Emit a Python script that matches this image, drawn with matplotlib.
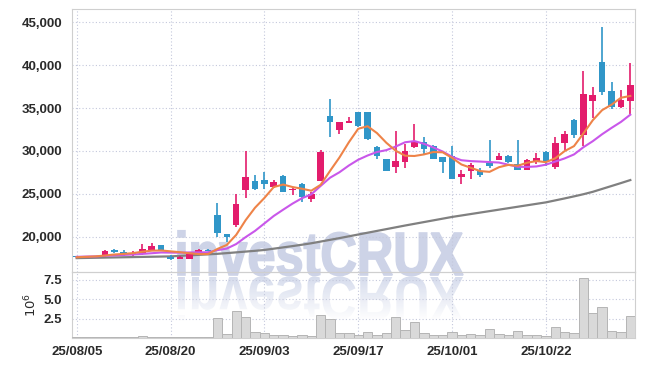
import numpy as np
import pandas as pd
import matplotlib
matplotlib.use("Agg")
import matplotlib.pyplot as plt
from matplotlib.textpath import TextPath
from matplotlib.patches import PathPatch
from matplotlib.font_manager import FontProperties
from matplotlib.transforms import Affine2D
from matplotlib.colors import LinearSegmentedColormap
from matplotlib.ticker import FuncFormatter

# KRX trading days (Aug 15 and Chuseok week closed)
holidays = ["2025-08-15", "2025-10-03", "2025-10-06", "2025-10-07", "2025-10-08", "2025-10-09"]
dates = pd.bdate_range("2025-08-05", "2025-11-04", freq="C", holidays=holidays)

opens = [17700, 17550, 17650, 17750, 18450, 18250, 17950, 17950, 18500, 19000,
         17650, 17450, 17400, 18200, 18450, 22550, 20300, 21400, 25450, 26500,
         26600, 25850, 27100, 25400, 26150, 24400, 26550, 34100, 32400, 33300,
         34500, 34500, 30400, 29050, 28100, 28650, 30450, 31000, 30600, 29250,
         29450, 27000, 27700, 27600, 28550, 28950, 29450, 28450, 27800, 28850,
         29900, 28100, 30950, 33650, 31800, 35800, 40400, 36950, 35150, 35800]
highs = [17750, 17800, 17750, 18500, 18550, 18450, 18350, 19150, 19250, 19050,
         17850, 17700, 18050, 18550, 18600, 23900, 20350, 24950, 29950, 27200,
         27500, 26600, 27150, 25650, 26300, 25200, 30050, 36100, 33400, 34000,
         34500, 34500, 30600, 29100, 32300, 30750, 33100, 31650, 30700, 29300,
         30600, 27800, 28600, 28000, 31250, 29700, 29500, 31250, 29050, 29750,
         29950, 31650, 32300, 33700, 39300, 37450, 44400, 38050, 37100, 40200]
lows = [17550, 17500, 17600, 17650, 18150, 17800, 17800, 17900, 18400, 18300,
        17250, 17400, 17350, 18150, 18300, 20000, 19400, 21100, 24500, 25450,
        25550, 25700, 25200, 24900, 24100, 24000, 26450, 31650, 32000, 33300,
        32800, 31300, 29100, 27600, 27400, 28000, 30350, 29550, 29000, 27400,
        26700, 26150, 26700, 27000, 28000, 28900, 28550, 27750, 27750, 28450,
        28200, 27900, 30150, 31450, 30550, 33850, 36550, 34900, 35000, 34250]
closes = [17600, 17700, 17700, 18350, 18250, 17950, 18150, 18550, 18950, 18350,
          17450, 17650, 17950, 18450, 18350, 20450, 20000, 23800, 27000, 25600,
          26150, 26400, 25250, 25550, 24600, 25000, 29850, 33350, 33350, 33450,
          32900, 31350, 29350, 27700, 28800, 30000, 31200, 30250, 29100, 28650,
          26750, 27350, 28300, 27200, 28200, 29450, 28700, 27800, 28950, 29200,
          28800, 30950, 32000, 31850, 36600, 36500, 36850, 35150, 35900, 37650]
# volume in millions of shares
volumes = [0.12, 0.10, 0.08, 0.15, 0.10, 0.09, 0.10, 0.25, 0.15, 0.10,
           0.12, 0.08, 0.15, 0.12, 0.10, 2.60, 0.58, 3.44, 2.72, 0.83,
           0.66, 0.41, 0.33, 0.29, 0.41, 0.30, 3.00, 2.50, 0.70, 0.60,
           0.45, 0.80, 0.42, 0.70, 2.72, 1.07, 2.05, 0.66, 0.40, 0.40,
           0.80, 0.40, 0.54, 0.40, 1.18, 0.54, 0.40, 0.92, 0.40, 0.40,
           0.28, 1.43, 0.80, 0.66, 7.72, 3.23, 4.00, 0.92, 0.80, 2.88]

# moving average lines as drawn on the chart
ma5 = [17600, 17650, 17700, 17800, 17920, 17990, 18080, 18250, 18370, 18390,
       18290, 18190, 18070, 17970, 17970, 18570, 19040, 20210, 21920, 23370,
       24510, 25790, 26080, 25790, 25590, 25360, 26050, 27670, 29230, 31000,
       32580, 32880, 32080, 30950, 30020, 29440, 29410, 29590, 29870, 29840,
       29190, 28420, 28030, 27650, 27560, 28100, 28370, 28270, 28620, 28820,
       28690, 29140, 29980, 30560, 32040, 33580, 34760, 35390, 36200, 36410]
ma10 = [17650, 17680, 17700, 17760, 17820, 17870, 17920, 17990, 18070, 18155,
        18140, 18135, 18160, 18170, 18180, 18430, 18615, 19140, 19945, 20670,
        21540, 22415, 23145, 23855, 24480, 24935, 25920, 26875, 27510, 28295,
        28970, 29465, 29875, 30090, 30510, 31010, 31145, 30835, 30410, 29930,
        29315, 28915, 28810, 28760, 28700, 28645, 28395, 28150, 28135, 28190,
        28395, 28755, 29125, 29590, 30430, 31135, 31950, 32685, 33380, 34225]
ma60 = [17500, 17520, 17540, 17560, 17580, 17600, 17620, 17640, 17660, 17680,
        17700, 17760, 17820, 17880, 17940, 18000, 18080, 18170, 18260, 18350,
        18450, 18600, 18750, 18900, 19060, 19230, 19430, 19630, 19830, 20040,
        20250, 20460, 20670, 20880, 21090, 21300, 21500, 21700, 21900, 22100,
        22300, 22470, 22640, 22810, 22980, 23150, 23320, 23490, 23660, 23830,
        24000, 24230, 24460, 24700, 24950, 25230, 25570, 25910, 26250, 26600]

up_color = "#e31c6c"
down_color = "#3096c8"
grid_color = "#c4c8dc"
spine_color = "#cfcfcf"
label_font = dict(family="Liberation Sans", size=9.5, weight="bold", color="#2a2a2a")

fig = plt.figure(figsize=(6.45, 3.66), dpi=100)

# watermark layer in pixel coordinates, sits behind both panels
wm = fig.add_axes([0, 0, 1, 1], zorder=0)
fp = FontProperties(family="Liberation Sans", weight="bold")
tp = TextPath((0, 0), "investCRUX", size=1, prop=fp)
ext = tp.get_extents()
cap = TextPath((0, 0), "X", size=1, prop=fp).get_extents().height
sx = 285 / ext.width
sy = 42 / cap
x0, base = 178, 275
front = Affine2D().translate(-ext.x0, 0).scale(sx, -sy).translate(x0, base)
wm.add_patch(PathPatch(front.transform_path(tp), fc="#cdd3e7", ec="#cdd3e7", lw=1.2))
back = Affine2D().translate(-ext.x0, 0).scale(sx, sy).translate(x0, base + 2)
refl = PathPatch(back.transform_path(tp), fc="none", ec="none")
wm.add_patch(refl)
cmap = LinearSegmentedColormap.from_list("wm", ["#d5dbec", "#ffffff"])
grad = np.linspace(0, 1, 100).reshape(-1, 1)
im = wm.imshow(grad, cmap=cmap, extent=(x0 - 5, x0 + 295, base + 46, base),
               aspect="auto", origin="upper")
im.set_clip_path(refl)
wm.set_xlim(0, 645)
wm.set_ylim(366, 0)
wm.axis("off")

# price panel
ax = fig.add_axes([72 / 645, 1 - 272 / 366, 563 / 645, 263 / 366], zorder=1)
ax.set_facecolor("none")
x = np.arange(len(closes))
o = np.array(opens)
c = np.array(closes)
colors = [up_color if cc >= oo else down_color for oo, cc in zip(o, c)]
ax.vlines(x, lows, highs, colors=colors, linewidth=1.2, zorder=3)
body = np.maximum(np.abs(c - o), 60)
ax.bar(x, body, bottom=np.minimum(o, c), width=0.7, color=colors, zorder=4)

ax.plot(x, ma60, color="#808080", linewidth=1.6, zorder=2)
ax.plot(x, ma10, color="#c957ea", linewidth=1.5, zorder=5)
ax.plot(x, ma5, color="#ee8348", linewidth=1.5, zorder=6)

ax.set_xlim(-0.5, 59.5)
ax.set_ylim(15880, 46550)
ax.set_yticks([20000, 25000, 30000, 35000, 40000, 45000])
ax.yaxis.set_major_formatter(FuncFormatter(lambda v, p: f"{v:,.0f}"))
ax.set_xticks(x[::10])
ax.set_xticklabels([])
ax.grid(True, linestyle=(0, (1, 2)), color=grid_color, linewidth=0.8)
ax.set_axisbelow(True)
ax.tick_params(length=0, pad=7)
for t in ax.get_yticklabels():
    t.set(**label_font)
for s in ax.spines.values():
    s.set_color(spine_color)

# volume panel
vax = fig.add_axes([72 / 645, 1 - 338 / 366, 563 / 645, 66 / 366], zorder=1)
vax.set_facecolor("none")
vax.bar(x, volumes, width=1.0, color="#d9d9d9", edgecolor="#b5b5b5", linewidth=0.7, zorder=3)
vax.set_xlim(-0.5, 59.5)
vax.set_ylim(0, 8.53)
vax.set_yticks([2.5, 5.0, 7.5])
vax.set_xticks(x[::10])
vax.set_xticklabels([d.strftime("%y/%m/%d") for d in dates[::10]])
vax.grid(True, linestyle=(0, (1, 2)), color=grid_color, linewidth=0.8)
vax.set_axisbelow(True)
vax.tick_params(length=0, pad=7)
vax.tick_params(axis="x", pad=6)
for t in vax.get_yticklabels() + vax.get_xticklabels():
    t.set(**label_font)
vax.set_ylabel(r"$10^6$", fontsize=9.5, color="#2a2a2a", labelpad=3)
for s in vax.spines.values():
    s.set_color(spine_color)

fig.savefig("out.png", dpi=100)
